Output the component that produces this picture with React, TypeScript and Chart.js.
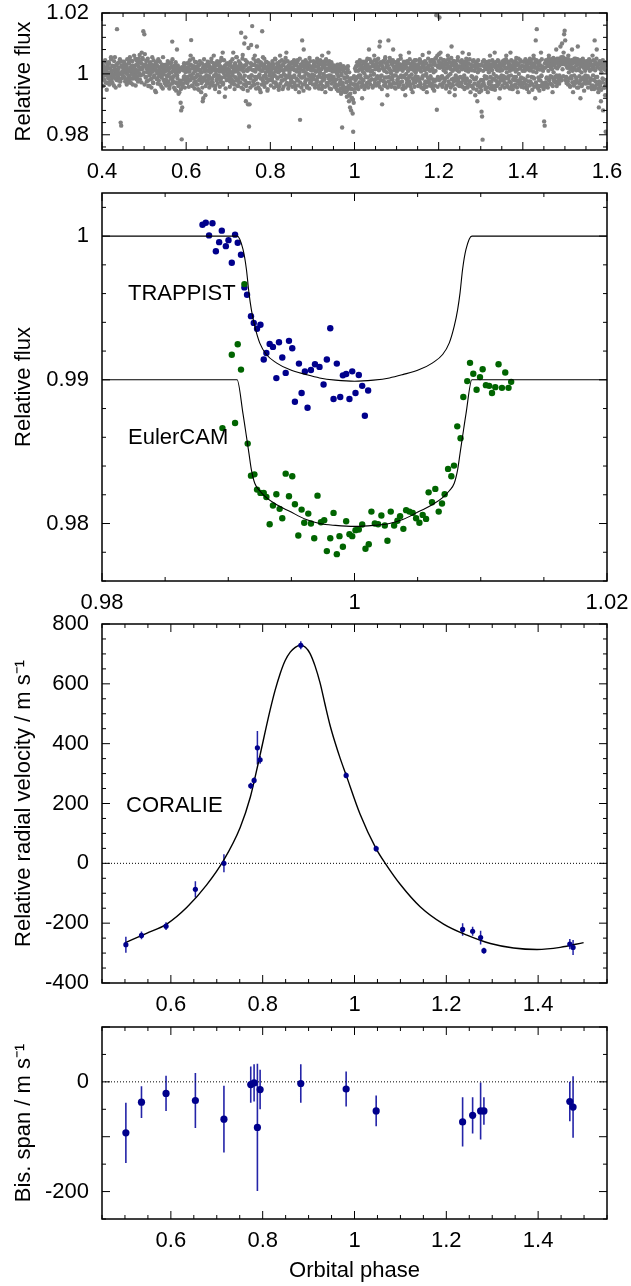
import React, { useEffect, useRef } from 'react';
import { Chart, registerables } from 'chart.js';

Chart.register(...registerables);

const FONT = "'Liberation Sans', Arial, Helvetica, sans-serif";
const FS = 22;
const W = 631;
const BLUE = '#00008c';
const ERR_BLUE = '#2424a8';
const GREEN = '#006400';
const GREY = '#808080';

// ---------------- Panel 1 : phase-folded photometry ----------------
const P1_PHASE_START = 0.4;
const P1_BIN_WIDTH = 0.05;
// relative-flux deviations, in units of 1e-4, per 0.05-wide phase bin (0.40 ... 1.60)
const P1_FLUX_DEV: number[][] = [
  [12,-8,25,3,-20,15,40,-5,8,-30,22,0,-12,33,18,-25,5,48,-10,27,-3,10,-38,20,55,-15,6,30,147,-7,14,-22,38,2,-18,-160,-170,24,9,-4],
  [5,18,-12,30,10,-20,25,0,14,-28,36,8,-6,20,44,-15,12,28,-35,6,22,-8,16,50,3,-18,32,11,-25,24,40,62,15,-5,35,70,20,48,140,26],
  [130,65,30,-10,18,45,5,-22,28,12,-40,38,0,20,-15,55,8,-30,24,-5,15,32,-60,10,-18,26,2,42,-8,16,-35,22,6,-12,30,-48,14,-2,25,9],
  [10,-18,25,-5,32,-28,15,0,-40,20,-12,38,5,106,-22,12,-8,28,-50,18,3,-30,80,-15,22,-65,8,-25,14,-95,-120,-215,-110,-35,20,-10,30,-45,6,-20],
  [-15,20,-30,8,35,-22,14,-5,60,111,-10,25,-40,2,18,-28,40,-12,10,-35,22,-3,-50,15,-20,30,-8,12,-60,5,-25,-90,-80,28,-15,8,-70,20,-5,-32],
  [10,-20,30,-8,22,-35,5,40,-15,18,-28,12,60,-5,25,-40,0,35,-18,14,-10,28,-60,8,20,-25,45,-12,16,70,-30,3,24,-75,10,-6,32,-20,15,-2],
  [15,-10,28,-25,40,5,-18,22,-5,70,12,-35,30,-12,8,55,-22,18,-40,25,0,-8,35,-28,135,14,-15,62,-50,20,100,-6,120,-90,30,-30,10,-100,85,-173],
  [-100,20,-15,95,-5,157,30,-25,12,-35,60,8,-18,25,90,-10,40,-45,15,-2,28,-60,10,35,140,-20,18,-8,50,-30,22,5,-14,38,-55,12,-22,30,-5,16],
  [8,-20,25,-12,35,2,-28,18,-6,48,10,-35,22,-15,30,5,-42,15,60,-8,24,-22,12,-50,28,0,-18,38,-5,20,70,-30,14,-10,26,-38,6,32,-15,18],
  [-10,22,-28,15,35,-5,12,-40,28,-15,8,45,-22,18,-60,5,-151,30,-12,25,110,-35,10,80,-8,20,-25,38,2,-45,16,-18,30,-6,52,-30,14,-10,24,-2],
  [20,-15,30,-5,12,-35,25,8,-22,40,-10,18,-48,15,5,-28,35,-12,60,-40,22,0,-18,28,-60,10,42,-8,16,-30,70,-5,24,-20,12,-50,30,-14,8,20],
  [-10,15,-25,20,-40,5,-18,30,-55,-8,12,-35,22,-20,-65,0,-176,-30,10,-48,18,-15,-60,5,-28,-75,-10,25,-40,-90,-22,-110,-15,-120,-50,-80,-130,-190,-95,-35],
  [-60,-20,10,-35,25,-10,30,-50,-5,15,-28,40,-15,20,-80,8,-22,35,2,-40,18,-8,28,-30,50,-12,12,80,-25,22,-5,38,-18,10,-45,30,-2,60,-20,15],
  [20,-15,35,-8,25,-30,12,90,106,-20,30,-5,-100,18,40,-25,10,-12,55,-40,22,5,-70,28,110,-10,15,-35,45,2,-18,30,-8,80,-28,12,-45,24,-5,18],
  [8,-20,30,-12,22,-35,15,60,-5,28,-25,10,-50,35,-10,18,-70,25,0,-30,40,-15,12,70,-8,20,-40,32,-2,15,-60,26,-18,10,45,-28,5,22,-10,14],
  [-10,25,-22,15,40,-35,8,20,-15,62,-5,30,-45,12,-25,35,0,-60,22,-12,18,70,-30,10,-8,28,-40,15,45,-18,5,-55,30,50,-22,193,-118,60,-10,25],
  [65,185,20,70,-15,35,-8,25,-30,12,45,-20,30,5,-40,18,-10,60,-25,22,-60,38,0,15,90,-35,10,28,-15,42,-70,20,-5,30,-22,12,55,-30,8,-12],
  [25,-10,40,-30,15,70,-20,28,-5,35,-45,12,50,-15,22,-35,8,65,-25,18,-60,30,-8,12,-40,25,45,-18,10,-70,20,-12,35,-90,5,-30,28,-60,15,-45],
  [-20,-124,-140,-216,10,-30,25,-8,40,-45,15,-15,30,-60,20,5,-35,60,-10,28,-25,12,-50,35,0,-18,70,-40,22,-8,15,-30,45,-12,25,-80,10,-22,30,-5],
  [12,-20,30,-8,45,-30,18,-12,60,5,-40,22,-15,35,-25,10,70,-5,28,-50,15,-18,40,-10,20,-35,8,52,-22,14,-60,30,0,-28,18,45,-12,25,-40,10],
  [-15,25,-30,10,40,-20,15,-45,30,-8,22,-60,12,50,-25,18,-10,35,-35,8,60,-15,28,-80,110,5,147,-40,20,-12,38,-55,14,-22,70,-5,24,-30,10,-50],
  [-156,-170,20,-30,35,-12,25,-45,10,60,-20,30,-8,45,-35,15,-60,28,5,-25,40,-10,22,80,-40,18,35,-15,50,-5,30,90,-22,40,100,15,55,70,130,142],
  [110,30,-10,45,20,-25,60,5,35,-40,15,25,-15,80,10,-60,40,-5,22,-30,50,12,-20,30,90,-45,18,-8,35,-80,25,5,-35,42,-12,20,-55,28,10,-18],
  [20,-15,35,-8,25,-30,45,10,-20,30,-40,15,60,-5,22,-50,110,12,-25,35,80,-10,28,-60,-110,18,-35,40,-90,5,25,-15,-120,30,-45,15,-70,-190,10,-20],
];
// second interleaved set of measurements, same bins, same units
const P1_FLUX_DEV_B: number[][] = [
  [-18,32,-40,8,22,-5,45,-28,12,-52,30,3,-15,38,-35,18,-8,55,-22,10,-30,25,-12,42,-3,15,-45,28,-20,5,35,-10,20,-38,48,-25,0,27,-14,40],
  [22,-10,40,5,-25,30,15,-35,48,8,-12,35,-20,55,10,-30,25,0,42,-15,18,60,-5,28,-38,12,45,-8,33,-22,50,2,-18,38,20,-28,15,52,-2,30],
  [5,-35,28,-12,42,-25,15,50,-40,20,-5,35,-18,8,-45,30,12,-28,45,-10,25,-55,18,38,-15,3,-32,48,-22,10,40,-8,22,-42,30,-2,55,-20,15,-30],
  [-20,30,-38,12,-8,42,-25,18,-48,5,35,-15,25,-32,48,-10,20,-45,10,-28,38,-55,15,-5,28,-40,8,-60,-35,-22,-50,-30,22,-42,12,-18,35,-8,-28,18],
  [15,-28,35,-10,22,-42,8,45,-20,30,-5,-38,18,50,-15,25,-48,10,-25,38,-8,20,-35,28,-52,12,42,-18,5,-30,35,-45,20,-12,48,-22,15,-40,30,-5],
  [-25,40,-12,28,-45,15,5,-30,50,-18,22,-38,35,-8,18,-50,30,10,-22,42,-32,12,-5,38,-42,25,-15,52,-28,8,-35,20,45,-10,28,-48,15,-20,35,2],
  [30,-20,12,-42,38,-8,25,-32,48,5,-25,18,-50,35,-12,22,55,-38,10,-18,42,-28,15,-5,30,-45,20,50,-15,8,-35,28,-22,45,-40,12,38,-55,18,-10],
  [-30,15,-45,35,-5,28,-38,12,50,-22,30,-10,42,-48,18,25,-32,45,-8,20,-52,38,-15,28,-35,10,55,-25,30,-42,18,-5,40,-28,22,-50,12,35,-18,5],
  [25,-38,15,-20,42,-5,30,-45,18,50,-28,8,-40,35,-12,22,-52,10,40,-32,25,-8,45,-22,30,-42,12,38,-18,52,-35,20,-10,42,-48,28,-2,35,-30,15],
  [-22,38,-42,18,-10,45,-30,28,-50,12,35,-20,42,-38,22,-5,50,-28,15,-45,32,-12,40,-55,8,28,-35,45,-18,22,-40,35,-2,30,-48,18,42,-25,12,-15],
  [22,-35,42,-18,28,-45,8,38,-28,50,-12,25,-40,32,-2,45,-32,15,-50,28,-22,40,-8,35,-42,18,48,-30,12,-38,32,-15,42,-48,22,-5,38,-32,28,-20],
  [-20,28,-42,10,-35,22,-50,0,-38,18,-55,8,-30,32,-48,-5,-60,15,-38,25,-52,-12,20,-45,2,-58,-25,15,-50,-70,5,-40,-65,-30,-78,-15,-50,-85,-35,-8],
  [-35,18,-48,25,-15,38,-40,10,32,-28,45,-5,28,-42,15,-32,40,-20,22,-50,35,-10,42,-38,12,30,-45,20,-25,48,-35,8,38,-18,25,-40,32,0,45,-30],
  [30,-38,45,-15,22,50,-30,15,-42,38,-8,32,-50,25,-22,42,-38,12,48,-28,35,-12,28,-45,40,-25,18,52,-35,10,-42,35,-18,45,-32,22,-5,38,-48,25],
  [-32,38,-20,45,-42,15,32,-28,50,-10,28,-48,18,-38,40,-5,30,-45,22,-18,42,-38,10,35,-25,48,-35,18,-50,28,-15,40,-30,22,-42,32,-8,45,-22,15],
  [25,-40,32,-18,48,-30,18,-45,38,-10,30,-50,22,-35,42,-5,35,-42,15,-28,50,-20,28,-38,40,-15,45,-32,18,-48,32,-25,38,-38,10,52,-18,28,-42,22],
  [42,-20,35,-35,50,-10,28,-42,22,45,-28,32,-15,40,-48,18,30,-38,48,-5,38,-32,25,-45,52,-18,32,-38,42,-25,15,-50,35,-12,28,-35,45,-20,22,-40],
  [-28,40,-38,18,45,-42,30,-15,38,-50,22,-30,42,-20,32,-45,10,35,-35,48,-25,15,-40,28,-10,42,-48,25,-32,38,-18,32,-52,20,-38,45,-28,12,-42,30],
  [-42,-55,28,-35,40,-20,45,-38,22,-50,32,-10,38,-45,15,-30,42,-25,30,-48,18,-38,45,-15,32,-42,25,-52,38,-22,28,-40,12,-35,42,-28,35,-48,18,-10],
  [30,-38,42,-22,25,-45,35,-15,48,-32,18,-42,40,-8,32,-48,22,-28,45,-38,15,-50,38,-20,30,-40,42,-10,28,-45,35,-25,50,-35,18,-18,40,-42,25,-30],
  [-30,40,-45,22,-18,48,-35,30,-50,18,42,-25,35,-38,12,45,-32,25,-52,32,-12,50,-42,20,38,-28,45,-38,15,-48,32,-20,42,-40,28,-8,48,-35,22,-45],
  [-45,-40,35,-28,45,-15,40,-35,28,50,-22,42,-32,22,48,-10,35,-40,52,-18,30,45,-28,38,-5,50,-25,42,25,-32,48,-12,35,55,-20,45,32,-8,50,38],
  [45,-20,50,-30,38,22,-35,48,-15,32,-42,40,-8,45,-28,35,18,-38,50,-25,42,-12,30,-45,48,-28,38,12,-32,45,-20,35,-40,28,50,-18,42,-30,32,-5],
  [-32,42,-25,35,-45,18,48,-30,40,-15,32,-50,25,-38,45,-20,30,-42,38,-10,50,-35,22,-48,32,-25,42,-40,15,-52,35,-28,45,-18,22,-45,38,-32,28,-20],
];
const P1_X_TICKS = [0.4, 0.6, 0.8, 1, 1.2, 1.4, 1.6];
const P1_Y_TICKS = [0.98, 1, 1.02];

// ---------------- Panel 2 : transit light curves ----------------
const TRAPPIST_PHASE = [0.98796,0.98822,0.98848,0.98875,0.98902,0.98928,0.98949,0.98981,0.99002,0.99028,0.99054,0.99075,0.99101,0.99128,0.99149,0.9918,0.99202,0.99228,0.99255,0.99281,0.99302,0.99328,0.99354,0.99381,0.99402,0.99428,0.99455,0.99481,0.99507,0.99528,0.9956,0.99581,0.99607,0.99628,0.99655,0.99687,0.99723,0.99755,0.99781,0.99808,0.99834,0.9986,0.99887,0.99908,0.99934,0.9996,0.99982,1.00008,1.00034,1.00061,1.00082,1.00108];
const TRAPPIST_FLUX = [1.00079,1.00093,1.00005,1.00089,0.99895,0.99958,1.00038,0.9993,0.99972,0.99815,1.0001,0.99954,0.9987,0.99643,0.99592,0.99443,0.99396,0.99355,0.99383,0.99141,0.99187,0.9925,0.99229,0.99012,0.99261,0.99155,0.99048,0.99271,0.9922,0.98847,0.99113,0.98908,0.99058,0.98806,0.99068,0.99108,0.9909,0.98967,0.99141,0.99359,0.98866,0.99113,0.9888,0.99031,0.9904,0.98866,0.99059,0.98908,0.99033,0.98958,0.9875,0.98926];
const EULER_PHASE = [0.98954,0.99028,0.99054,0.99075,0.99101,0.99128,0.99154,0.9918,0.99207,0.99228,0.99255,0.99281,0.99302,0.99328,0.99354,0.99381,0.99407,0.99428,0.99455,0.99481,0.99507,0.99528,0.99555,0.99581,0.99602,0.99634,0.99655,0.99681,0.99707,0.99734,0.9976,0.99781,0.99808,0.99834,0.9986,0.99881,0.99908,0.99934,0.9996,0.99982,1.00008,1.00034,1.00061,1.00087,1.00113,1.00134,1.00161,1.00187,1.00213,1.0024,1.00261,1.00287,1.00314,1.0034,1.00361,1.00387,1.00409,1.00435,1.00461,1.00488,1.00514,1.0054,1.00567,1.00587,1.00614,1.0064,1.00667,1.00693,1.00714,1.00741,1.00767,1.00788,1.00814,1.0084,1.00862,1.00893,1.00915,1.00941,1.00967,1.00994,1.01015,1.01041,1.01067,1.01089,1.01115,1.01141,1.01168,1.01194,1.0122,1.01241];
const EULER_FLUX = [0.98664,0.99174,0.98699,0.99247,0.99071,0.99666,0.98556,0.98333,0.98342,0.98236,0.98213,0.98213,0.98185,0.97995,0.98125,0.98204,0.98102,0.98037,0.98347,0.9819,0.98329,0.98134,0.97917,0.98097,0.98005,0.98069,0.98,0.97898,0.98194,0.98009,0.98023,0.97808,0.97898,0.98074,0.97787,0.97912,0.97838,0.98016,0.97926,0.97912,0.97954,0.97958,0.97993,0.97824,0.97856,0.98083,0.98,0.97995,0.98056,0.97986,0.9788,0.98083,0.97986,0.98019,0.98051,0.97963,0.98093,0.98083,0.98074,0.98037,0.98005,0.9806,0.98032,0.98217,0.98148,0.98241,0.98083,0.98139,0.98204,0.9838,0.98329,0.98403,0.98676,0.98593,0.9888,0.98991,0.99118,0.99042,0.98931,0.99019,0.99073,0.98963,0.98958,0.98908,0.98949,0.99108,0.98944,0.99051,0.98944,0.98986];
const MODEL_PHASE = [0.98,0.9907,0.99117,0.99144,0.99164,0.99183,0.9921,0.99249,0.99302,0.99381,0.99486,0.99618,0.99723,0.9985,1.0,1.0015,1.00277,1.00382,1.00514,1.00619,1.00698,1.00751,1.0079,1.00817,1.00836,1.00856,1.00883,1.0093,1.02];
const TRAPPIST_MODEL = [1,1,0.99907,0.99768,0.99605,0.99489,0.99373,0.99257,0.99176,0.99118,0.99071,0.99036,0.99013,0.98998,0.9899,0.98998,0.99013,0.99036,0.99071,0.99118,0.99176,0.99257,0.99373,0.99489,0.99605,0.99768,0.99907,1,1];
const EULER_MODEL = [0.99,0.99,0.98763,0.98606,0.98488,0.98375,0.9828,0.98228,0.9818,0.98132,0.98085,0.98028,0.98,0.97987,0.9798,0.97987,0.98,0.98028,0.98085,0.98132,0.9818,0.98228,0.9828,0.98375,0.98488,0.98606,0.98763,0.99,0.99];
const P2_X_TICKS = [0.98, 1, 1.02];
const P2_Y_TICKS = [0.98, 0.99, 1];
const P2_LABELS = ['TRAPPIST', 'EulerCAM'];
const P2_LABEL_X = [0.98206, 0.98206];
const P2_LABEL_Y = [0.99601, 0.98597];

// ---------------- Panel 3 : radial velocities ----------------
const RV_PHASE = [0.502,0.536,0.5895,0.6534,0.7156,0.774,0.7813,0.7885,0.7944,0.883,0.9818,1.0472,1.2355,1.2573,1.2747,1.2819,1.469,1.4761];
const RV_VALUE = [-272,-241,-210,-87,0,259,277,386,346,729,294,49,-221,-227,-248,-292,-270,-281];
const RV_ERR = [27,13,13,27,30,10,10,56,13,13,10,10,21,15,23,10,17,25];
const RV_MODEL_PHASE = [0.5,0.547,0.591,0.635,0.678,0.7145,0.751,0.773,0.7835,0.794,0.816,0.827,0.838,0.849,0.86,0.871,0.882,0.893,0.903,0.914,0.925,0.936,0.947,0.958,0.969,0.982,1.012,1.047,1.067,1.0995,1.143,1.194,1.245,1.296,1.3465,1.3975,1.448,1.499];
const RV_MODEL = [-266,-234,-203,-147,-72,9,120,221,288,360,511,578,634,678,706,722,730,722,702,660,603,530,460,402,350,294,165,49,0,-70,-145,-203,-240,-268,-283,-288,-281,-265];
const P34_X_TICKS = [0.6, 0.8, 1, 1.2, 1.4];
const P3_Y_TICKS = [-400, -200, 0, 200, 400, 600, 800];
const P3_LABELS = ['CORALIE'];
const P3_LABEL_X = [0.5023];
const P3_LABEL_Y = [193];

// ---------------- Panel 4 : bisector spans ----------------
const BIS_VALUE = [-93,-37,-21,-34,-68,-5,-2,-83,-14,-3,-13,-53,-73,-61,-53,-53,-36,-46];
const BIS_ERR = [55,29,32,50,61,33,34,116,36,35,32,28,45,33,52,25,36,56];
const P4_Y_TICKS = [-200, 0];

// ---------------- helpers ----------------
const zip = (xs: number[], ys: number[]) => xs.map((x, i) => ({ x, y: ys[i] }));
const fmt = (v: any) => String(Math.round(Number(v) * 1e6) / 1e6);

function stepValues(min: number, max: number, step: number) {
  const out: number[] = [];
  const s = Math.ceil(min / step - 1e-7);
  const e = Math.floor(max / step + 1e-7);
  for (let k = s; k <= e; k++) out.push(k * step);
  return out;
}

function framePlugin(xMajor: number[], xMinor: number, yMajor: number[], yMinor: number) {
  return {
    id: 'frameTicks',
    afterDatasetsDraw(chart: any) {
      const { ctx, chartArea: a } = chart;
      const xs = chart.scales.x;
      const ys = chart.scales.y;
      const isMajor = (list: number[], v: number) => list.some((m) => Math.abs(m - v) < 1e-7);
      ctx.save();
      ctx.strokeStyle = '#000';
      ctx.lineWidth = 1;
      ctx.beginPath();
      for (const v of stepValues(xs.min, xs.max, xMinor)) {
        const len = isMajor(xMajor, v) ? 8 : 4;
        const p = xs.getPixelForValue(v);
        ctx.moveTo(p, a.bottom); ctx.lineTo(p, a.bottom - len);
        ctx.moveTo(p, a.top); ctx.lineTo(p, a.top + len);
      }
      for (const v of stepValues(ys.min, ys.max, yMinor)) {
        const len = isMajor(yMajor, v) ? 8 : 4;
        const p = ys.getPixelForValue(v);
        ctx.moveTo(a.left, p); ctx.lineTo(a.left + len, p);
        ctx.moveTo(a.right, p); ctx.lineTo(a.right - len, p);
      }
      ctx.stroke();
      ctx.lineWidth = 1.5;
      ctx.strokeRect(a.left, a.top, a.right - a.left, a.bottom - a.top);
      ctx.restore();
    },
  };
}

function textPlugin(texts: string[], xs0: number[], ys0: number[]) {
  return {
    id: 'textLabels',
    afterDatasetsDraw(chart: any) {
      const { ctx } = chart;
      const xs = chart.scales.x;
      const ys = chart.scales.y;
      ctx.save();
      ctx.fillStyle = '#000';
      ctx.font = `${FS}px ${FONT}`;
      ctx.textAlign = 'left';
      ctx.textBaseline = 'middle';
      texts.forEach((t, i) => ctx.fillText(t, xs.getPixelForValue(xs0[i]), ys.getPixelForValue(ys0[i])));
      ctx.restore();
    },
  };
}

const errorBarPlugin = {
  id: 'errorBars',
  beforeDatasetsDraw(chart: any) {
    const { ctx, chartArea: a } = chart;
    const xs = chart.scales.x;
    const ys = chart.scales.y;
    ctx.save();
    ctx.beginPath();
    ctx.rect(a.left, a.top, a.right - a.left, a.bottom - a.top);
    ctx.clip();
    chart.data.datasets.forEach((ds: any) => {
      if (!ds.errors) return;
      ctx.strokeStyle = ds.errorColor;
      ctx.lineWidth = ds.errorWidth;
      ctx.beginPath();
      ds.data.forEach((pt: any, i: number) => {
        const e = ds.errors[i];
        const px = xs.getPixelForValue(pt.x);
        ctx.moveTo(px, ys.getPixelForValue(pt.y - e));
        ctx.lineTo(px, ys.getPixelForValue(pt.y + e));
      });
      ctx.stroke();
    });
    ctx.restore();
  },
};

type PanelSpec = {
  H: number; top: number; bottom: number;
  xMin: number; xMax: number; yMin: number; yMax: number;
  xTicks: number[]; yTicks: number[]; xMinor: number; yMinor: number;
  yTitle: string; xTitle?: string;
};

function buildOptions(p: PanelSpec): any {
  const tickFont = { family: FONT, size: FS };
  return {
    responsive: false,
    animation: false,
    events: [],
    layout: { padding: { top: p.top, right: W - 607, left: 0, bottom: 0 } },
    plugins: { legend: { display: false }, tooltip: { enabled: false } },
    scales: {
      x: {
        type: 'linear',
        min: p.xMin,
        max: p.xMax,
        afterBuildTicks: (s: any) => { s.ticks = p.xTicks.map((v) => ({ value: v })); },
        afterFit: (s: any) => { s.height = p.H - p.bottom; s.paddingLeft = 0; s.paddingRight = 0; },
        grid: { display: false, drawTicks: false },
        border: { display: false },
        ticks: { color: '#000', font: tickFont, padding: 9, maxRotation: 0, autoSkip: false, callback: fmt },
        title: p.xTitle
          ? { display: true, text: p.xTitle, color: '#000', font: tickFont, padding: { top: 0, bottom: 2 } }
          : { display: false },
      },
      y: {
        type: 'linear',
        min: p.yMin,
        max: p.yMax,
        afterBuildTicks: (s: any) => { s.ticks = p.yTicks.map((v) => ({ value: v })); },
        afterFit: (s: any) => { s.width = 102; s.paddingTop = 0; s.paddingBottom = 0; },
        grid: { display: false, drawTicks: false },
        border: { display: false },
        ticks: { color: '#000', font: tickFont, padding: 13, autoSkip: false, callback: fmt },
        title: { display: true, text: p.yTitle, color: '#000', font: tickFont, padding: { top: 11, bottom: 0 } },
      },
    },
  };
}

function Panel({ top, height, make }: { top: number; height: number; make: () => any }) {
  const ref = useRef<HTMLCanvasElement | null>(null);
  useEffect(() => {
    if (!ref.current) return;
    const chart = new Chart(ref.current, make());
    return () => chart.destroy();
  }, []);
  return (
    <canvas
      ref={ref}
      width={W}
      height={height}
      style={{ position: 'absolute', left: 0, top, width: W, height, display: 'block' }}
    />
  );
}

// ---------------- chart configs ----------------
const P1: PanelSpec = { H: 190, top: 13, bottom: 150, xMin: 0.4, xMax: 1.6, yMin: 0.975, yMax: 1.02,
  xTicks: P1_X_TICKS, yTicks: P1_Y_TICKS, xMinor: 0.05, yMinor: 0.004, yTitle: 'Relative flux' };
const P2: PanelSpec = { H: 440, top: 13, bottom: 401, xMin: 0.98, xMax: 1.02, yMin: 0.976, yMax: 1.003,
  xTicks: P2_X_TICKS, yTicks: P2_Y_TICKS, xMinor: 0.005, yMinor: 0.002, yTitle: 'Relative flux' };
const P3: PanelSpec = { H: 415, top: 19, bottom: 378, xMin: 0.45, xMax: 1.55, yMin: -400, yMax: 800,
  xTicks: P34_X_TICKS, yTicks: P3_Y_TICKS, xMinor: 0.05, yMinor: 50, yTitle: 'Relative radial velocity / m s\u207B\u00B9' };
const P4: PanelSpec = { H: 276, top: 17, bottom: 209, xMin: 0.45, xMax: 1.55, yMin: -250, yMax: 100,
  xTicks: P34_X_TICKS, yTicks: P4_Y_TICKS, xMinor: 0.05, yMinor: 50, yTitle: 'Bis. span / m s\u207B\u00B9', xTitle: 'Orbital phase' };

function makeP1() {
  const toPoints = (bins: number[][], shift: number) =>
    bins.flatMap((bin, i) =>
      bin.map((d, j) => ({ x: P1_PHASE_START + P1_BIN_WIDTH * (i + (j + shift) / bin.length), y: 1 + d / 10000 }))
    );
  const pts = [...toPoints(P1_FLUX_DEV, 0.5), ...toPoints(P1_FLUX_DEV_B, 0.0)];
  return {
    type: 'scatter',
    data: { datasets: [{ label: 'WASP', data: pts, pointRadius: 2.2, backgroundColor: GREY, borderWidth: 0 }] },
    options: buildOptions(P1),
    plugins: [framePlugin(P1.xTicks, P1.xMinor, P1.yTicks, P1.yMinor)],
  };
}

function makeP2() {
  const line = { showLine: true, pointRadius: 0, borderColor: '#000', borderWidth: 1.1, cubicInterpolationMode: 'monotone' };
  return {
    type: 'scatter',
    data: {
      datasets: [
        { label: 'TRAPPIST model', data: zip(MODEL_PHASE, TRAPPIST_MODEL), ...line },
        { label: 'EulerCAM model', data: zip(MODEL_PHASE, EULER_MODEL), ...line },
        { label: 'EulerCAM', data: zip(EULER_PHASE, EULER_FLUX), pointRadius: 3.2, backgroundColor: GREEN, borderWidth: 0 },
        { label: 'TRAPPIST', data: zip(TRAPPIST_PHASE, TRAPPIST_FLUX), pointRadius: 3.2, backgroundColor: BLUE, borderWidth: 0 },
      ],
    },
    options: buildOptions(P2),
    plugins: [framePlugin(P2.xTicks, P2.xMinor, P2.yTicks, P2.yMinor), textPlugin(P2_LABELS, P2_LABEL_X, P2_LABEL_Y)],
  };
}

function makeP3() {
  return {
    type: 'scatter',
    data: {
      datasets: [
        { label: 'CORALIE', data: zip(RV_PHASE, RV_VALUE), errors: RV_ERR, errorColor: ERR_BLUE, errorWidth: 1.5,
          pointRadius: 2.6, backgroundColor: BLUE, borderWidth: 0 },
        { label: 'Orbit', data: zip(RV_MODEL_PHASE, RV_MODEL), showLine: true, pointRadius: 0, borderColor: '#000',
          borderWidth: 1.4, cubicInterpolationMode: 'monotone' },
        { label: 'zero', data: [{ x: P3.xMin, y: 0 }, { x: P3.xMax, y: 0 }], showLine: true, pointRadius: 0,
          borderColor: '#000', borderWidth: 1, borderDash: [1, 2] },
      ],
    },
    options: buildOptions(P3),
    plugins: [errorBarPlugin, framePlugin(P3.xTicks, P3.xMinor, P3.yTicks, P3.yMinor), textPlugin(P3_LABELS, P3_LABEL_X, P3_LABEL_Y)],
  };
}

function makeP4() {
  return {
    type: 'scatter',
    data: {
      datasets: [
        { label: 'Bisector', data: zip(RV_PHASE, BIS_VALUE), errors: BIS_ERR, errorColor: ERR_BLUE, errorWidth: 1.6,
          pointRadius: 3.6, backgroundColor: BLUE, borderWidth: 0 },
        { label: 'zero', data: [{ x: P4.xMin, y: 0 }, { x: P4.xMax, y: 0 }], showLine: true, pointRadius: 0,
          borderColor: '#000', borderWidth: 1, borderDash: [1, 2] },
      ],
    },
    options: buildOptions(P4),
    plugins: [errorBarPlugin, framePlugin(P4.xTicks, P4.xMinor, [-200, -100, 0, 100], P4.yMinor)],
  };
}

export default function App() {
  return (
    <div style={{ position: 'absolute', left: 0, top: 0, width: W, height: 1286, background: '#fff', overflow: 'hidden' }}>
      <Panel top={0} height={P1.H} make={makeP1} />
      <Panel top={180} height={P2.H} make={makeP2} />
      <Panel top={605} height={P3.H} make={makeP3} />
      <Panel top={1010} height={P4.H} make={makeP4} />
    </div>
  );
}
